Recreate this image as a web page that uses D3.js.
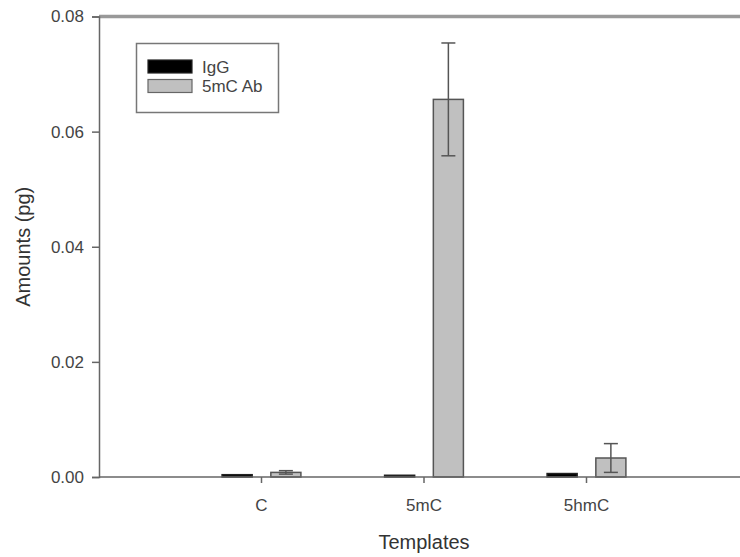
<!DOCTYPE html>
<html>
<head>
<meta charset="utf-8">
<script src="https://cdn.jsdelivr.net/npm/d3@7"></script>
<style>
  body { margin: 0; background: #fff; }
  svg text { font-family: "Liberation Sans", Arial, sans-serif; }
</style>
</head>
<body>
<svg width="740" height="557"></svg>
<script>
// Data
const templates = ["C", "5mC", "5hmC"];
const igg = [0.0004, 0.0003, 0.0006];
const iggErr = [0, 0, 0];
const ab = [0.0008, 0.0656, 0.0033];
const abErr = [0.0003, 0.0098, 0.0025];
const yTicks = [0, 0.02, 0.04, 0.06, 0.08];
const seriesNames = ["IgG", "5mC Ab"];
const seriesFill = ["#000000", "#c0c0c0"];

const svg = d3.select("svg");

// x: category index, axis at 0, right edge runs off the picture
const x = d3.scaleLinear().domain([0, 4]).range([99, 749]);
const y = d3.scaleLinear().domain([0, 0.08]).range([477, 16.5]);

const barW = x(0.185) - x(0);
const off = x(0.15) - x(0);
const axisColor = "#666";

// top frame line
svg.append("line")
  .attr("x1", x(0)).attr("x2", 740)
  .attr("y1", y(0.08)).attr("y2", y(0.08))
  .attr("stroke", "#999").attr("stroke-width", 3.5);

// bars
const series = [
  { vals: igg, err: iggErr, dx: -off, fill: seriesFill[0], stroke: "#222" },
  { vals: ab, err: abErr, dx: off, fill: seriesFill[1], stroke: "#555" }
];

series.forEach(s => {
  s.vals.forEach((v, i) => {
    const cx = x(i + 1) + s.dx;
    svg.append("rect")
      .attr("x", cx - barW / 2)
      .attr("y", y(v))
      .attr("width", barW)
      .attr("height", y(0) - y(v))
      .attr("fill", s.fill)
      .attr("stroke", s.stroke)
      .attr("stroke-width", 1.5);
    if (s.err[i] > 0) {
      const g = svg.append("g").attr("stroke", "#555").attr("stroke-width", 1.5);
      g.append("line").attr("x1", cx).attr("x2", cx)
        .attr("y1", y(v + s.err[i])).attr("y2", y(v - s.err[i]));
      [v + s.err[i], v - s.err[i]].forEach(e => {
        g.append("line").attr("x1", cx - 7).attr("x2", cx + 7)
          .attr("y1", y(e)).attr("y2", y(e));
      });
    }
  });
});

// y axis
const yAxis = svg.append("g")
  .attr("transform", `translate(${x(0)},0)`)
  .call(d3.axisLeft(y).tickValues(yTicks).tickFormat(d3.format(".2f")).tickSizeOuter(0).tickSize(7).tickPadding(8));
yAxis.select(".domain").attr("stroke", axisColor).attr("stroke-width", 1.5);
yAxis.selectAll(".tick line").attr("stroke", axisColor).attr("stroke-width", 1.5);
yAxis.selectAll(".tick text").attr("font-size", 17).attr("fill", "#444");

// x axis baseline + ticks
svg.append("line")
  .attr("x1", x(0)).attr("x2", 740)
  .attr("y1", y(0)).attr("y2", y(0))
  .attr("stroke", axisColor).attr("stroke-width", 1.5);

templates.forEach((t, i) => {
  svg.append("line")
    .attr("x1", x(i + 1)).attr("x2", x(i + 1))
    .attr("y1", y(0)).attr("y2", y(0) + 6)
    .attr("stroke", axisColor).attr("stroke-width", 1.5);
  svg.append("text")
    .attr("x", x(i + 1)).attr("y", 511)
    .attr("text-anchor", "middle")
    .attr("font-size", 17).attr("fill", "#444")
    .text(t);
});

// axis titles
svg.append("text")
  .attr("x", x(2)).attr("y", 549)
  .attr("text-anchor", "middle")
  .attr("font-size", 20).attr("fill", "#333")
  .text("Templates");

svg.append("text")
  .attr("transform", `translate(30,${y(0.04)}) rotate(-90)`)
  .attr("text-anchor", "middle")
  .attr("font-size", 20).attr("fill", "#333")
  .text("Amounts (pg)");

// legend
const leg = svg.append("g");
leg.append("rect")
  .attr("x", 136.5).attr("y", 43.5).attr("width", 142).attr("height", 69)
  .attr("fill", "#fff").attr("stroke", "#777").attr("stroke-width", 1.5);
seriesNames.forEach((n, i) => {
  leg.append("rect")
    .attr("x", 148).attr("y", 60 + i * 19.5).attr("width", 44).attr("height", 13)
    .attr("fill", seriesFill[i]).attr("stroke", i ? "#666" : "#222").attr("stroke-width", 1.2);
  leg.append("text")
    .attr("x", 202).attr("y", 72.5 + i * 19.5)
    .attr("font-size", 17).attr("fill", "#444")
    .text(n);
});
</script>
</body>
</html>
